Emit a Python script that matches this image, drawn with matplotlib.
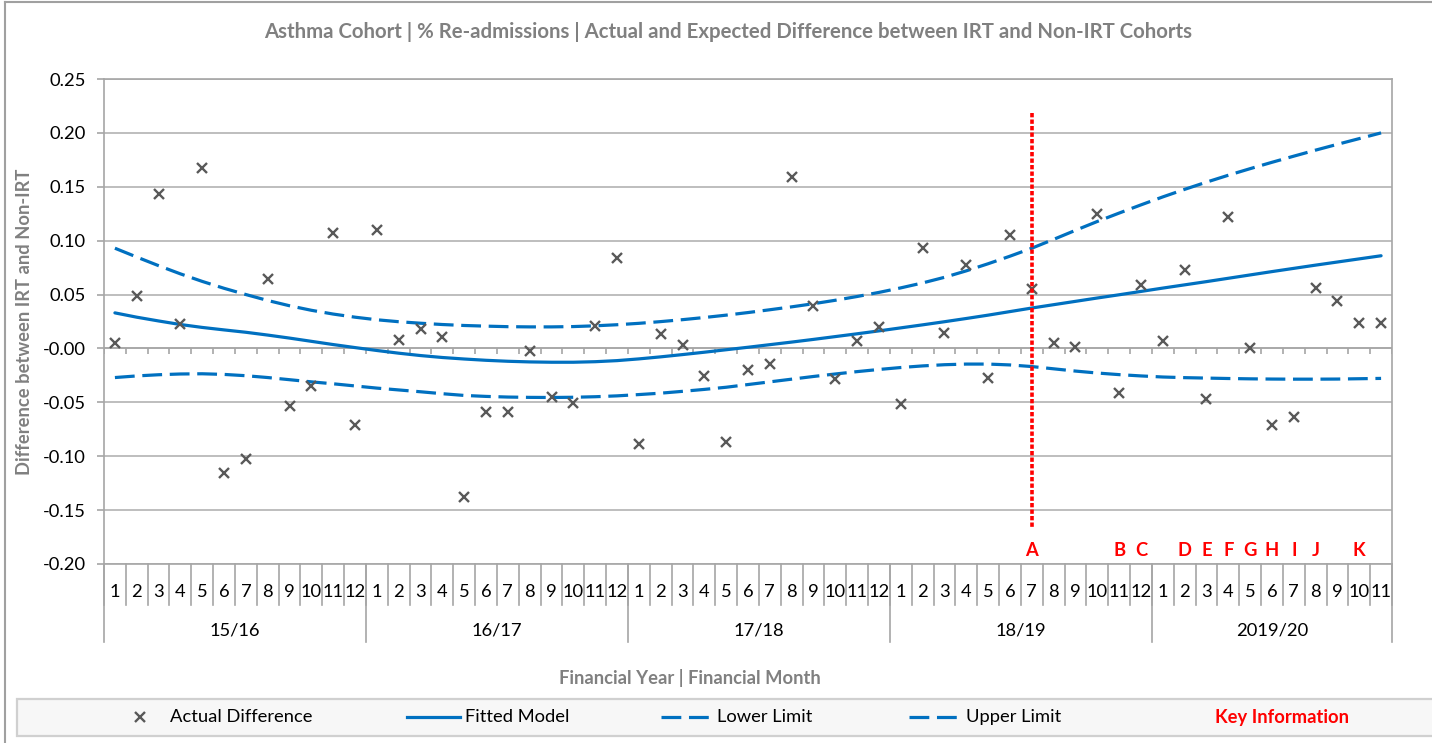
import matplotlib
matplotlib.use("Agg")
import numpy as np
import matplotlib.pyplot as plt
import matplotlib.transforms as mtrans
from matplotlib.lines import Line2D
from matplotlib.patches import Rectangle
from matplotlib.ticker import FormatStrFormatter

plt.rcParams['font.family'] = ['Lato', 'DejaVu Sans']
plt.rcParams['axes.unicode_minus'] = False

# ---- data -------------------------------------------------------------
years = ["15/16", "16/17", "17/18", "18/19", "2019/20"]
months_per_year = [12, 12, 12, 12, 11]

actual = [
    0.005, 0.049, 0.143, 0.023, 0.167, -0.116, -0.103, 0.064, -0.053, -0.035, 0.107, -0.071,
    0.110, 0.008, 0.018, 0.011, -0.138, -0.059, -0.059, -0.002, -0.045, -0.051, 0.021, 0.084,
    -0.089, 0.013, 0.003, -0.026, -0.087, -0.020, -0.014, 0.159, 0.039, -0.028, 0.007, 0.020,
    -0.052, 0.093, 0.014, 0.077, -0.027, 0.105, 0.055, 0.005, 0.001, 0.125, -0.041, 0.059,
    0.007, 0.073, -0.047, 0.122, 0.000, -0.071, -0.064, 0.056, 0.044, 0.024, 0.024,
]

fitted = [
    0.0330, 0.0290, 0.0255, 0.0222, 0.0195, 0.0172, 0.0150, 0.0124, 0.0096, 0.0066, 0.0036, 0.0008,
    -0.0019, -0.0044, -0.0066, -0.0084, -0.0098, -0.0110, -0.0119, -0.0125, -0.0128, -0.0128, -0.0123, -0.0113,
    -0.0097, -0.0078, -0.0057, -0.0035, -0.0012, 0.0011, 0.0035, 0.0059, 0.0084, 0.0110, 0.0136, 0.0163,
    0.0191, 0.0219, 0.0248, 0.0278, 0.0309, 0.0342, 0.0375, 0.0406, 0.0437, 0.0468, 0.0498, 0.0529,
    0.0560, 0.0590, 0.0620, 0.0651, 0.0682, 0.0713, 0.0743, 0.0773, 0.0802, 0.0831, 0.0860,
]

lower = [
    -0.0270, -0.0255, -0.0244, -0.0237, -0.0235, -0.0241, -0.0253, -0.0270, -0.0290, -0.0310, -0.0328, -0.0348,
    -0.0368, -0.0385, -0.0402, -0.0420, -0.0436, -0.0445, -0.0451, -0.0454, -0.0455, -0.0453, -0.0448, -0.0440,
    -0.0428, -0.0415, -0.0398, -0.0380, -0.0360, -0.0335, -0.0310, -0.0285, -0.0260, -0.0237, -0.0215, -0.0195,
    -0.0177, -0.0162, -0.0151, -0.0145, -0.0145, -0.0153, -0.0168, -0.0189, -0.0210, -0.0228, -0.0243, -0.0255,
    -0.0265, -0.0271, -0.0275, -0.0279, -0.0282, -0.0284, -0.0285, -0.0285, -0.0284, -0.0281, -0.0278,
]

upper = [
    0.0930, 0.0848, 0.0768, 0.0692, 0.0622, 0.0558, 0.0500, 0.0445, 0.0396, 0.0354, 0.0319, 0.0290,
    0.0266, 0.0248, 0.0234, 0.0222, 0.0213, 0.0207, 0.0202, 0.0200, 0.0200, 0.0203, 0.0210, 0.0220,
    0.0233, 0.0249, 0.0267, 0.0287, 0.0309, 0.0333, 0.0359, 0.0386, 0.0415, 0.0447, 0.0482, 0.0520,
    0.0562, 0.0608, 0.0660, 0.0720, 0.0786, 0.0856, 0.0930, 0.1012, 0.1096, 0.1178, 0.1256, 0.1332,
    0.1406, 0.1476, 0.1543, 0.1607, 0.1668, 0.1727, 0.1784, 0.1840, 0.1894, 0.1947, 0.2000,
]

# key events: (financial year, month, letter)
key_events = [
    ("18/19", 7, "A"), ("18/19", 11, "B"), ("18/19", 12, "C"),
    ("2019/20", 2, "D"), ("2019/20", 3, "E"), ("2019/20", 4, "F"), ("2019/20", 5, "G"),
    ("2019/20", 6, "H"), ("2019/20", 7, "I"), ("2019/20", 8, "J"), ("2019/20", 10, "K"),
]
marker_event = "A"

# ---- styling constants --------------------------------------------------
W, H = 1432, 743
BLUE = "#0070C0"
GRID = "#b3b3b3"
AXIS = "#a6a6a6"
TITLE_GREY = "#808080"
FS = 13.2


def fx(px):
    return px / W


def fy(py):
    return 1 - py / H


fig = plt.figure(figsize=(W / 100, H / 100), dpi=100)
ax = fig.add_axes([fx(104), fy(564), (1392 - 104) / W, (564 - 79) / H])

month_labels = []
year_starts = []
pos = 0
for yr, n in zip(years, months_per_year):
    year_starts.append(pos)
    month_labels += [str(m) for m in range(1, n + 1)]
    pos += n
n_cat = len(month_labels)
xs = np.arange(n_cat) + 0.5

# ---- series -------------------------------------------------------------
dash = (0, (6.2, 2.4))
ax.plot(xs, upper, color=BLUE, lw=2.3, ls=dash, zorder=3)
ax.plot(xs, lower, color=BLUE, lw=2.3, ls=dash, zorder=3)
ax.plot(xs, fitted, color=BLUE, lw=2.3, zorder=3, solid_capstyle="round")
ax.plot(xs, actual, ls="none", marker="x", ms=7, mew=1.7, color="#595959", zorder=4)

# ---- axes ---------------------------------------------------------------
ax.set_xlim(0, n_cat)
ax.set_ylim(-0.20, 0.25)
ax.set_yticks(np.round(np.arange(-0.20, 0.2501, 0.05), 2))
ax.yaxis.set_major_formatter(FormatStrFormatter("%.2f"))
ax.set_xticks([])
ax.yaxis.grid(True, color=GRID, lw=1.2)
ax.set_axisbelow(True)
for side in ["left", "right", "top", "bottom"]:
    ax.spines[side].set_color(AXIS)
    ax.spines[side].set_linewidth(1.2)
ax.tick_params(axis="y", length=5, width=1.2, color=AXIS, pad=8,
               labelsize=FS, labelcolor="black")

# horizontal category axis crossing at zero, with tick marks
ax.axhline(0, color=AXIS, lw=1.2, zorder=1)
ax.vlines(np.arange(n_cat + 1), -0.0048, 0, color=AXIS, lw=1.2, zorder=1)

# ---- multi-level category labels ---------------------------------------
tr = mtrans.blended_transform_factory(ax.transData, fig.transFigure)
for i, lab in enumerate(month_labels):
    ax.text(i + 0.5, fy(592), lab, transform=tr, ha="center", va="center",
            fontsize=FS, clip_on=False)
for b in range(n_cat + 1):
    fig.add_artist(Line2D([b, b], [fy(564), fy(605)], transform=tr,
                          color=AXIS, lw=1.2))
bounds = year_starts + [n_cat]
for k, yr in enumerate(years):
    ax.text((bounds[k] + bounds[k + 1]) / 2, fy(631), yr, transform=tr,
            ha="center", va="center", fontsize=FS, clip_on=False)
for b in bounds:
    fig.add_artist(Line2D([b, b], [fy(564), fy(642)], transform=tr,
                          color=AXIS, lw=1.2))

# ---- key information ---------------------------------------------------
for yr, m, letter in key_events:
    idx = year_starts[years.index(yr)] + m - 1
    ax.text(idx + 0.5, fy(551), letter, transform=tr, ha="center", va="center",
            fontsize=FS, fontweight="bold", color="red")
    if letter == marker_event:
        ax.plot([idx + 0.5, idx + 0.5], [0.218, -0.167], color="red",
                lw=2.6, ls=(0, (1.2, 0.6)), zorder=5)

# ---- titles -------------------------------------------------------------
fig.text(fx(728), fy(32),
         "Asthma Cohort | % Re-admissions | Actual and Expected Difference between IRT and Non-IRT Cohorts",
         ha="center", va="center", fontsize=14.7, fontweight="bold", color=TITLE_GREY)
fig.text(fx(25), fy(322), "Difference between IRT and Non-IRT", rotation=90,
         ha="center", va="center", fontsize=FS, fontweight="bold", color=TITLE_GREY)
fig.text(fx(690), fy(678), "Financial Year | Financial Month",
         ha="center", va="center", fontsize=FS, fontweight="bold", color=TITLE_GREY)

# ---- legend panel -------------------------------------------------------
fig.add_artist(Rectangle((fx(17), fy(736)), (1445 - 17) / W, 37 / H,
                         transform=fig.transFigure, facecolor="#f7f7f7",
                         edgecolor="#d0d0d0", lw=1.6))
ly = fy(717)
fig.add_artist(Line2D([fx(140)], [ly], transform=fig.transFigure, ls="none",
                      marker="x", ms=7, mew=1.7, color="#595959"))
fig.text(fx(170), ly, "Actual Difference", ha="left", va="center", fontsize=FS)
fig.add_artist(Line2D([fx(407), fx(460)], [ly, ly], transform=fig.transFigure,
                      color=BLUE, lw=2.3))
fig.text(fx(465), ly, "Fitted Model", ha="left", va="center", fontsize=FS)
fig.add_artist(Line2D([fx(661), fx(713)], [ly, ly], transform=fig.transFigure,
                      color=BLUE, lw=2.3, ls=dash))
fig.text(fx(717), ly, "Lower Limit", ha="left", va="center", fontsize=FS)
fig.add_artist(Line2D([fx(909), fx(961)], [ly, ly], transform=fig.transFigure,
                      color=BLUE, lw=2.3, ls=dash))
fig.text(fx(966), ly, "Upper Limit", ha="left", va="center", fontsize=FS)
fig.text(fx(1282), ly, "Key Information", ha="center", va="center",
         fontsize=FS, fontweight="bold", color="red")

# ---- chart frame --------------------------------------------------------
fig.add_artist(Line2D([fx(4.5), fx(4.5)], [0, fy(2)], transform=fig.transFigure,
                      color="#a0a0a0", lw=1.5))
fig.add_artist(Line2D([fx(4.5), 1], [fy(2), fy(2)], transform=fig.transFigure,
                      color="#a0a0a0", lw=1.5))

fig.savefig("out.png", dpi=100)
